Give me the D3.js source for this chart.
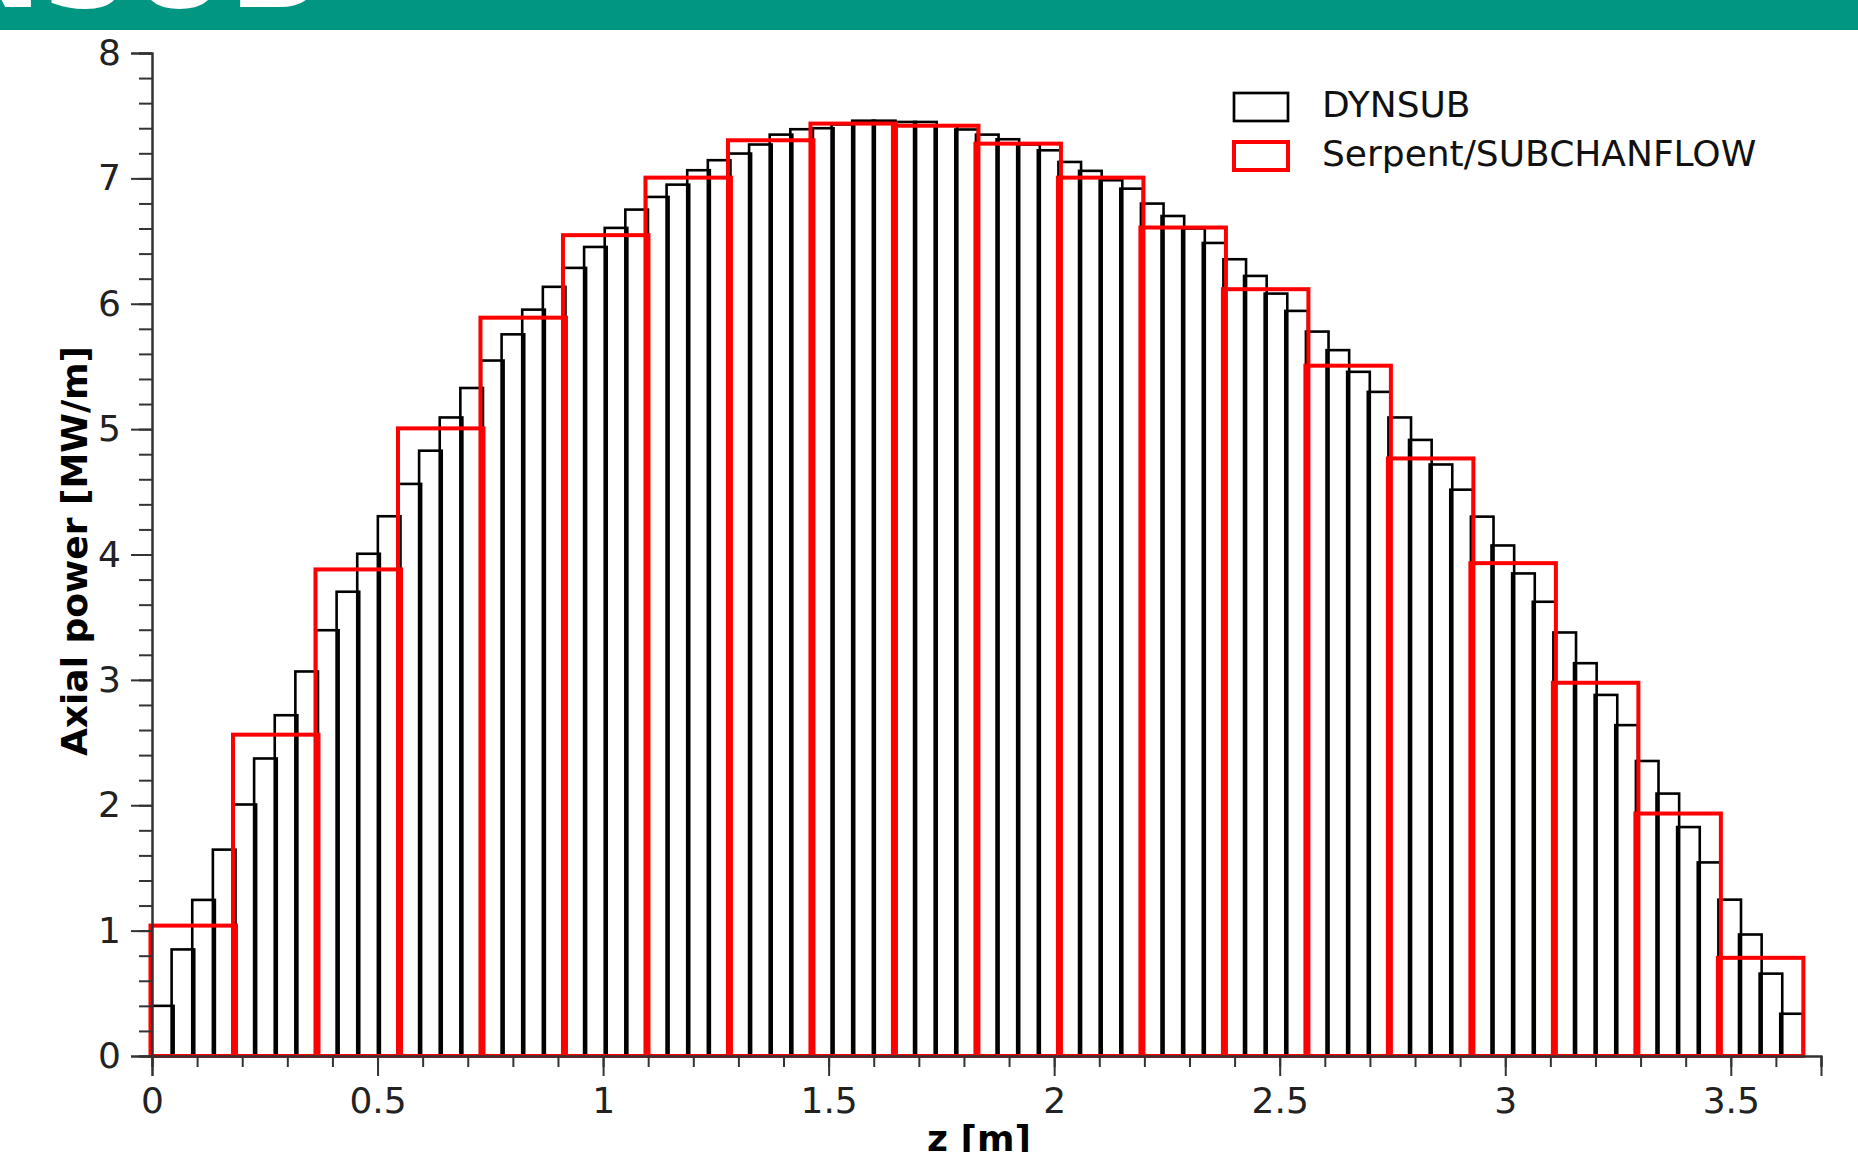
<!DOCTYPE html>
<html>
<head>
<meta charset="utf-8">
<script src="https://cdn.jsdelivr.net/npm/d3@7"></script>
<style>
  html, body { margin: 0; padding: 0; background: #fff; overflow: hidden; }
  svg { display: block; }
  text { font-family: "DejaVu Sans", sans-serif; }
</style>
</head>
<body>
<svg id="chart" width="1858" height="1152"></svg>
<script>
// ---- data ----
const coreLength = 3.6576;            // active height [m]
const dynsubBinCount = 80;
const serpentBinCount = 20;
const dynsubPower = [
  0.40, 0.85, 1.245, 1.646, 2.006, 2.373, 2.718, 3.067, 3.396, 3.703,
  4.006, 4.305, 4.563, 4.828, 5.093, 5.328, 5.547, 5.756, 5.953, 6.135,
  6.286, 6.453, 6.605, 6.751, 6.852, 6.95, 7.065, 7.145, 7.198, 7.27,
  7.349, 7.392, 7.40, 7.43, 7.46, 7.46, 7.45, 7.45, 7.42, 7.39,
  7.349, 7.312, 7.27, 7.224, 7.131, 7.06, 6.985, 6.918, 6.799, 6.70,
  6.60, 6.485, 6.355, 6.222, 6.081, 5.943, 5.778, 5.63, 5.457, 5.297,
  5.093, 4.914, 4.718, 4.517, 4.302, 4.072, 3.849, 3.623, 3.378, 3.133,
  2.88, 2.639, 2.353, 2.093, 1.826, 1.544, 1.247, 0.969, 0.657, 0.337
];
const serpentPower = [
  1.04, 2.563, 3.881, 5.006, 5.889, 6.547, 7.006, 7.304, 7.437, 7.42,
  7.277, 7.006, 6.608, 6.116, 5.506, 4.766, 3.931, 2.977, 1.934, 0.783
];
const xMajorTicks = [0, 0.5, 1, 1.5, 2, 2.5, 3, 3.5];
const yMajorTicks = [0, 1, 2, 3, 4, 5, 6, 7, 8];
const seriesNames = ["DYNSUB", "Serpent/SUBCHANFLOW"];
const xTitle = "z [m]";
const yTitle = "Axial power [MW/m]";
const bannerTitle = "DYNSUB";

// ---- layout ----
const svg = d3.select("#chart");
const plotLeft = 152, plotRight = 1821, plotTop = 53, plotBottom = 1056;
const x = d3.scaleLinear().domain([0, 3.7]).range([plotLeft, plotRight]);
const y = d3.scaleLinear().domain([0, 8]).range([plotBottom, plotTop]);
const axisColor = "#333";

// banner
svg.append("rect").attr("x", 0).attr("y", 0).attr("width", 1858).attr("height", 30)
  .attr("fill", "#009682");
svg.append("text").attr("x", 322).attr("y", 7).attr("text-anchor", "end")
  .attr("font-size", 122).attr("font-weight", "bold").attr("fill", "#fff")
  .text(bannerTitle);

// histogram bins
function bins(values, n) {
  const w = coreLength / n;
  return values.map((v, i) => ({ x0: i * w, x1: (i + 1) * w, v }));
}
const gBars = svg.append("g");
gBars.selectAll("rect.dyn").data(bins(dynsubPower, dynsubBinCount)).join("rect")
  .attr("class", "dyn")
  .attr("x", d => x(d.x0) - 1)
  .attr("y", d => y(d.v))
  .attr("width", d => x(d.x1) - x(d.x0) + 2)
  .attr("height", d => y(0) - y(d.v))
  .attr("fill", "none").attr("stroke", "#000").attr("stroke-width", 2.6);

gBars.selectAll("rect.ser").data(bins(serpentPower, serpentBinCount)).join("rect")
  .attr("class", "ser")
  .attr("x", d => x(d.x0) - 1.5)
  .attr("y", d => y(d.v))
  .attr("width", d => x(d.x1) - x(d.x0) + 3)
  .attr("height", d => y(0) - y(d.v))
  .attr("fill", "none").attr("stroke", "#ff0000").attr("stroke-width", 4);

// axes
const xMinor = d3.range(0, 38).map(i => i / 10);
const yMinor = d3.range(0, 41).map(i => i / 5);

const gx = svg.append("g").attr("transform", `translate(0,${plotBottom})`);
gx.append("g").call(d3.axisBottom(x).tickValues(xMinor).tickSize(11).tickFormat(""));
gx.append("g").call(d3.axisBottom(x).tickValues(xMajorTicks).tickSize(20).tickPadding(11)
  .tickFormat(d3.format("")));
const gy = svg.append("g").attr("transform", `translate(${plotLeft},0)`);
gy.append("g").call(d3.axisLeft(y).tickValues(yMinor).tickSize(13).tickFormat(""));
gy.append("g").call(d3.axisLeft(y).tickValues(yMajorTicks).tickSize(21).tickPadding(10)
  .tickFormat(d3.format("d")));

svg.selectAll(".domain").attr("stroke", axisColor).attr("stroke-width", 2);
svg.selectAll(".tick line").attr("stroke", axisColor).attr("stroke-width", 2);
svg.selectAll(".tick text").attr("font-family", "DejaVu Sans").attr("font-size", 36)
  .attr("fill", "#222");

// titles
svg.append("text").attr("x", 979).attr("y", 1151).attr("text-anchor", "middle")
  .attr("font-size", 36).attr("font-weight", "bold").attr("fill", "#000").text(xTitle);
svg.append("text").attr("transform", `translate(87,551) rotate(-90)`).attr("text-anchor", "middle")
  .attr("font-size", 36).attr("font-weight", "bold").attr("fill", "#000").text(yTitle);

// legend
const legend = svg.append("g");
const legendItems = [
  { name: seriesNames[0], color: "#000", sw: 2.7, y: 117 },
  { name: seriesNames[1], color: "#ff0000", sw: 4, y: 166 }
];
legendItems.forEach(it => {
  legend.append("rect").attr("x", 1234).attr("y", it.y - 24).attr("width", 54).attr("height", 28)
    .attr("fill", "none").attr("stroke", it.color).attr("stroke-width", it.sw);
  legend.append("text").attr("x", 1322).attr("y", it.y).attr("font-size", 36)
    .attr("fill", "#111").text(it.name);
});
</script>
</body>
</html>
